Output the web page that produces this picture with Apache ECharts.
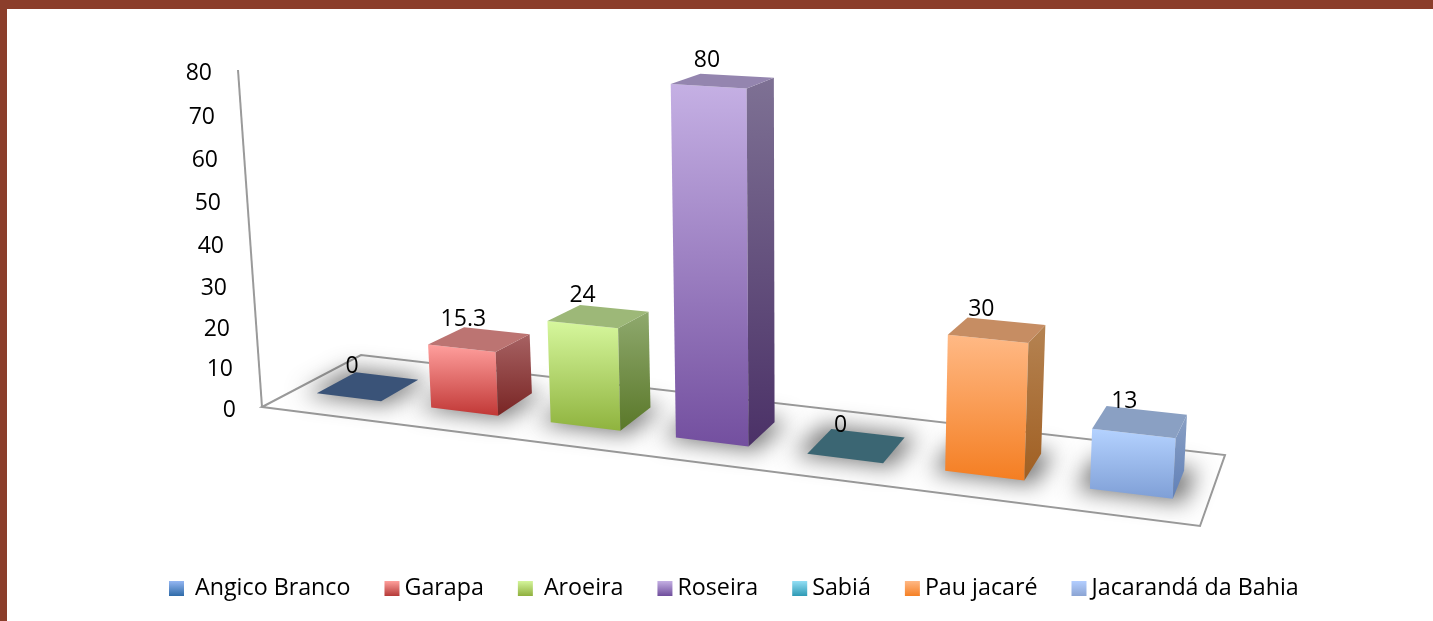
<!DOCTYPE html>
<html>
<head>
<meta charset="utf-8">
<style>html,body{margin:0;padding:0;background:#fff}#c{width:1433px;height:621px}</style>
<script src="https://cdn.jsdelivr.net/npm/echarts@6/dist/echarts.min.js"></script>
</head>
<body>
<div id="c"></div>
<script>
// ---- data ----
var categories = [' Angico Branco', 'Garapa', ' Aroeira', 'Roseira', 'Sabiá', 'Pau jacaré', 'Jacarandá da Bahia'];
var values = [0, 15.3, 24, 80, 0, 30, 13];
var yTicks = [0, 10, 20, 30, 40, 50, 60, 70, 80];

// ---- styles: [front top, front bottom, side top, side bottom, top face] ----
var faceColors = [
  ['#3a5378', '#3a5378', '#3a5378', '#3a5378', '#3a5378'],
  ['#ff9f9d', '#c13836', '#a76263', '#792524', '#bc7472'],
  ['#d6f79d', '#8fb33e', '#8fa96e', '#5a7829', '#9db878'],
  ['#c5b0e4', '#734f9f', '#7e7194', '#4b3167', '#9485af'],
  ['#3b6673', '#3b6673', '#3b6673', '#3b6673', '#3b6673'],
  ['#ffb985', '#f47e22', '#b58352', '#a05f22', '#c68d63'],
  ['#b4d2ff', '#7f9fd6', '#8aa0c4', '#6080b8', '#8aa0c3']
];
var legendColors = [
  ['#94b6f2', '#2f6ba8'], ['#ffa09c', '#b53a38'], ['#d4f59b', '#8fb03e'], ['#c4afe3', '#6f4e9c'],
  ['#93dff5', '#2e9ab5'], ['#ffb885', '#f58025'], ['#b3ceff', '#8ba4d3']
];

// ---- oblique view of the plot floor (unit square -> screen) ----
var FONT = '"Open Sans"';
var GRID = {left: 262, top: 70, width: 938, height: 337};
var FLOOR = [[262, 407], [1200, 526], [1225, 455], [361, 355]];
var DEPTH = [0.3, 0.7];
var BAR_SHARE = 0.56;
var hom = (function () {
  var p = FLOOR, dx1 = p[1][0] - p[2][0], dx2 = p[3][0] - p[2][0], sx = p[0][0] - p[1][0] + p[2][0] - p[3][0];
  var dy1 = p[1][1] - p[2][1], dy2 = p[3][1] - p[2][1], sy = p[0][1] - p[1][1] + p[2][1] - p[3][1];
  var det = dx1 * dy2 - dx2 * dy1;
  var g = (sx * dy2 - dx2 * sy) / det, h = (dx1 * sy - sx * dy1) / det;
  return {a: p[1][0] - p[0][0] + g * p[1][0], b: p[3][0] - p[0][0] + h * p[3][0], c: p[0][0],
          d: p[1][1] - p[0][1] + g * p[1][1], e: p[3][1] - p[0][1] + h * p[3][1], f: p[0][1], g: g, h: h};
})();
function floorPoint(u, v) {
  var w = 1 + hom.g * u + hom.h * v;
  return [(hom.a * u + hom.b * v + hom.c) / w, (hom.d * u + hom.e * v + hom.f) / w];
}
function lift(api, u, v, value) {
  var p = floorPoint(u, v);
  var rise = api.coord([0, 0])[1] - api.coord([0, value])[1];
  var scale = (0.94 + 0.165 * u) * (1 - (0.2 - 0.0013 * value) * (v - DEPTH[0])) * (1 + 0.00042 * value);
  return [p[0] + (p[0] - 790) / 1760 * value, p[1] - rise * scale];
}
function footprint(params, api) {
  var cs = params.coordSys;
  var cx = (api.coord([api.value(0), 0])[0] - cs.x) / cs.width;
  cx -= 0.001 + 0.0045 * Math.sin(Math.PI * cx);
  var half = api.size([1, 0])[0] / cs.width * BAR_SHARE / 2;
  return {u0: cx - half, u1: cx + half};
}
function vGrad(a, b) {
  return {type: 'linear', x: 0, y: 0, x2: 0, y2: 1, colorStops: [{offset: 0, color: a}, {offset: 1, color: b}]};
}

function renderFrame(params, api) {
  var top = [FLOOR[0][0] - 24, api.coord([0, 80])[1]];
  var line = {stroke: '#9a9a9a', lineWidth: 2, fill: null};
  return {type: 'group', children: [
    {type: 'polygon', shape: {points: FLOOR}, style: line},
    {type: 'polyline', shape: {points: [top, FLOOR[0]]}, style: line}
  ]};
}
var OFF = 3000;
function renderShadow(params, api) {
  var f = footprint(params, api), e = 0.012, d = 0.04;
  var pts = [floorPoint(f.u0 - e, DEPTH[0] - d), floorPoint(f.u1 + e, DEPTH[0] - d),
             floorPoint(f.u1 + e, DEPTH[1] + d), floorPoint(f.u0 - e, DEPTH[1] + d)]
    .map(function (p) { return [p[0] - OFF, p[1]]; });
  return {type: 'polygon', shape: {points: pts},
    style: {fill: '#000', shadowBlur: 22, shadowColor: 'rgba(70,70,70,0.72)', shadowOffsetX: OFF, shadowOffsetY: 0}};
}
function renderBar(idx) {
  return function (params, api) {
    var value = api.value(1), f = footprint(params, api), c = faceColors[idx];
    var v0 = DEPTH[0], v1 = DEPTH[1];
    var bFL = lift(api, f.u0, v0, 0), bFR = lift(api, f.u1, v0, 0), bBR = lift(api, f.u1, v1, 0);
    var tFL = lift(api, f.u0, v0, value), tFR = lift(api, f.u1, v0, value);
    var tBR = lift(api, f.u1, v1, value), tBL = lift(api, f.u0, v1, value);
    var kids = [];
    if (value > 0) {
      kids.push({type: 'polygon', shape: {points: [bFL, bFR, tFR, tFL]}, style: {fill: vGrad(c[0], c[1])}});
      kids.push({type: 'polygon', shape: {points: [bFR, bBR, tBR, tFR]}, style: {fill: vGrad(c[2], c[3])}});
    }
    kids.push({type: 'polygon', shape: {points: [tFL, tFR, tBR, tBL]}, style: {fill: c[4]}});
    var mx = (tFL[0] + tFR[0] + tBR[0] + tBL[0]) / 4 - 16, my = (tFL[1] + tFR[1] + tBR[1] + tBL[1]) / 4 - 20.5;
    kids.push({type: 'text', x: mx, y: my, style: {text: String(value), fill: '#000', font: '23px ' + FONT, align: 'center', verticalAlign: 'middle'}});
    return {type: 'group', children: kids};
  };
}

var rich = {};
yTicks.forEach(function (t) {
  var drop = 3.2 + 4.5 * Math.sin(Math.PI * t / 80);
  rich['t' + t] = {fontFamily: FONT, fontSize: 23, color: '#000', padding: [2 * drop, t * 0.3, 0, 0]};
});

var series = [
  {name: 'frame', type: 'custom', silent: true, z: 1, renderItem: renderFrame, data: [[0, 0]], encode: {x: 0, y: 1}, clip: false},
  {name: 'shadow', type: 'custom', silent: true, z: 2, renderItem: renderShadow,
   data: values.map(function (v, i) { return [i, v]; }), encode: {x: 0, y: 1}, clip: false}
];
categories.forEach(function (name, i) {
  series.push({name: name, type: 'custom', z: 3 + i, renderItem: renderBar(i), data: [[i, values[i]]], encode: {x: 0, y: 1}, clip: false,
    itemStyle: {color: faceColors[i][0]}});
});

var chart = echarts.init(document.getElementById('c'), null, {renderer: 'canvas'});
chart.setOption({
  animation: false,
  backgroundColor: '#fff',
  grid: {left: GRID.left, top: GRID.top, width: GRID.width, height: GRID.height, containLabel: false},
  xAxis: {type: 'category', data: categories, show: false},
  yAxis: {type: 'value', min: 0, max: 80, interval: 10,
    axisLine: {show: false}, axisTick: {show: false}, splitLine: {show: false},
    axisLabel: {margin: 26, formatter: function (v) { return '{t' + v + '|' + v + '}'; }, rich: rich}},
  legend: {left: 164, top: 572, itemGap: 34, itemWidth: 15, itemHeight: 15, icon: 'rect', selectedMode: false,
    textStyle: {fontFamily: FONT, fontSize: 23.25, color: '#000'},
    data: categories.map(function (n, i) { return {name: n, itemStyle: {color: vGrad(legendColors[i][0], legendColors[i][1])}}; })},
  graphic: [
    {type: 'rect', left: 0, top: 0, shape: {width: 1433, height: 9}, style: {fill: '#8b3e2b'}, z: 100},
    {type: 'rect', left: 0, top: 0, shape: {width: 7, height: 621}, style: {fill: '#8b3e2b'}, z: 100}
  ],
  series: series
});
</script>
</body>
</html>
